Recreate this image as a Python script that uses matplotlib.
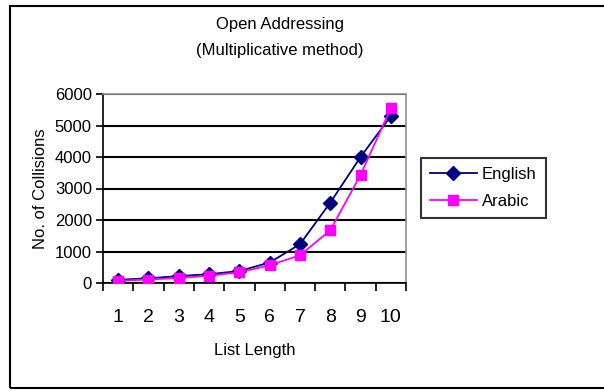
import matplotlib
matplotlib.use('Agg')
import matplotlib.pyplot as plt
from matplotlib.patches import Rectangle

plt.rcParams['font.family'] = ['Liberation Sans', 'DejaVu Sans']

list_length = [1, 2, 3, 4, 5, 6, 7, 8, 9, 10]
english = [100, 150, 220, 280, 380, 650, 1230, 2550, 4000, 5300]
arabic = [70, 110, 160, 230, 340, 560, 880, 1670, 3430, 5550]
y_ticks = [0, 1000, 2000, 3000, 4000, 5000, 6000]

W, H = 604, 391
fig = plt.figure(figsize=(W / 100, H / 100), dpi=100)
ax = fig.add_axes([103 / W, 1 - 283 / H, (406 - 103) / W, (283 - 94) / H])

ax.plot(list_length, english, color='#000080', marker='D', markersize=7, lw=1.3,
        label='English', zorder=3)
ax.plot(list_length, arabic, color='#ff00ff', marker='s', markersize=7, lw=1.3,
        label='Arabic', zorder=3)

ax.set_xlim(0.5, 10.5)
ax.set_ylim(0, 6000)
ax.set_yticks(y_ticks)
ax.yaxis.grid(True, color='black', lw=1.5)
ax.set_axisbelow(True)

# category ticks sit on the boundaries, labels in the middle
ax.set_xticks([i + 0.5 for i in range(0, 11)])
ax.set_xticklabels([])
ax.set_xticks(list_length, minor=True)
ax.set_xticklabels([str(v) for v in list_length], minor=True, fontsize=14)
ax.tick_params(axis='x', which='major', direction='out', length=6, width=1.2)
ax.tick_params(axis='x', which='minor', length=0, pad=19)
ax.tick_params(axis='y', direction='out', length=5, width=1.2, labelsize=12, pad=3)

for s in ['left', 'bottom']:
    ax.spines[s].set_color('black')
    ax.spines[s].set_linewidth(1.2)
for s in ['top', 'right']:
    ax.spines[s].set_color('#909090')
    ax.spines[s].set_linewidth(1.2)

ax.set_xlabel('List Length', fontsize=12, labelpad=12)
ax.set_ylabel('No. of Collisions', fontsize=12, labelpad=5)

fig.text(280 / W, 1 - 25 / H, 'Open Addressing', ha='center', va='center', fontsize=12)
fig.text(280 / W, 1 - 51 / H, '(Multiplicative method)', ha='center', va='center', fontsize=12)

leg = fig.legend(loc='center left', bbox_to_anchor=(421 / W, 1 - 188 / H),
                 fontsize=12, frameon=True, fancybox=False, edgecolor='black',
                 handlelength=2.8, borderpad=0.55, labelspacing=0.75, handletextpad=0.3,
                 borderaxespad=0)
leg.get_frame().set_linewidth(1.5)

# outer chart border
fig.patches.append(Rectangle((10 / W, 1 - 388 / H), (W + 5) / W, (388 - 6) / H,
                             transform=fig.transFigure, fill=False,
                             edgecolor='black', lw=1.5, clip_on=False))

fig.savefig('out.png', dpi=100)
